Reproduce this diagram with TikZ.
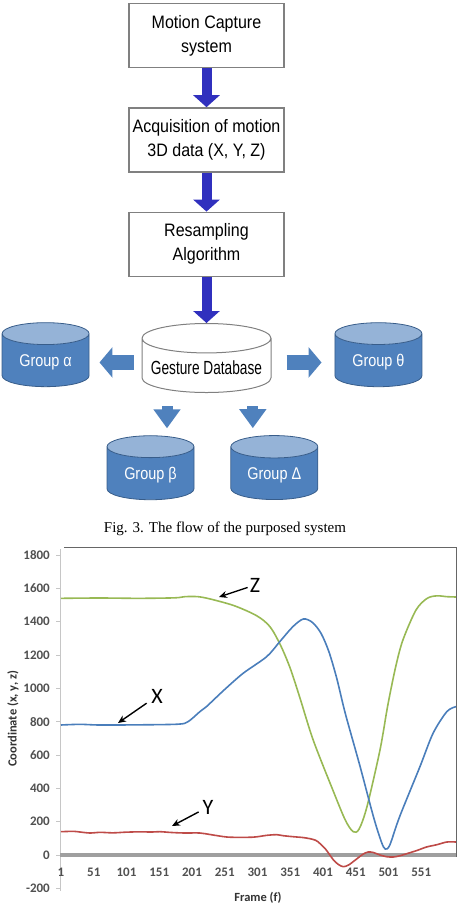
\documentclass[tikz,border=0pt]{standalone}
\usepackage{fontspec}
\setmainfont{Liberation Serif}
\newfontfamily\boxfont[FakeStretch=0.89]{Liberation Sans}
\newfontfamily\dbfont[FakeStretch=0.72]{Liberation Sans}
\newfontfamily\grpfont[FakeStretch=0.85]{Liberation Sans}
\newfontfamily\chartfont{Carlito}
\usetikzlibrary{arrows.meta, positioning, shapes.geometric}

\definecolor{flowblue}{RGB}{48,48,190}
\definecolor{grpfill}{RGB}{79,129,189}
\definecolor{grptop}{RGB}{149,179,215}
\definecolor{grpline}{RGB}{56,93,138}
\definecolor{xblue}{RGB}{74,126,187}
\definecolor{zgreen}{RGB}{152,185,84}
\definecolor{yred}{RGB}{190,75,72}
\definecolor{ticktext}{RGB}{80,80,80}

\begin{document}
\begin{tikzpicture}[
  x=1pt, y=-1pt,
  node distance=39pt and 52pt,
  box/.style={draw=gray, line width=1.4pt, minimum width=155pt, minimum height=64pt, align=center, inner sep=0pt, font=\boxfont\fontsize{18}{24}\selectfont},
  db/.style={cylinder, shape border rotate=90, aspect=0.25, draw=gray, line width=1pt, fill=white, minimum width=129pt, minimum height=69pt, font=\dbfont\fontsize{19}{22}\selectfont},
  grp/.style={cylinder, shape border rotate=90, aspect=0.37, draw=grpline, line width=0.8pt, cylinder uses custom fill, cylinder body fill=grpfill, cylinder end fill=grptop, minimum width=87pt, minimum height=64pt, text=white, font=\grpfont\fontsize{17}{20}\selectfont},
  arr/.style={-{Triangle[length=12pt, width=26pt]}, line width=10pt, draw=flowblue},
  fat/.style={-{Triangle[length=13pt, width=30pt]}, line width=15pt, draw=grpfill},
  down/.style={-{Triangle[length=19pt, width=26pt]}, line width=11pt, draw=grpfill},
  tick/.style={font=\chartfont\bfseries\fontsize{13}{15}\selectfont, text=ticktext},
  axlabel/.style={font=\chartfont\bfseries\fontsize{12.5}{15}\selectfont, text=black!80},
  curve/.style={line width=1.6pt, smooth},
  lbl/.style={font=\chartfont\fontsize{22}{24}\selectfont, inner sep=2pt},
  pointer/.style={-{Stealth[length=8pt, width=7pt]}, line width=1.4pt}
]
\useasboundingbox (0,0) rectangle (460,922);

% flow part
\node[box] (mocap) at (206.5,35.5) {Motion Capture\\system};
\node[box, below=of mocap] (acq) {Acquisition of motion\\3D data (X, Y, Z)};
\node[box, below=of acq] (resamp) {Resampling\\Algorithm};

\node[db, below=46pt of resamp] (gdb) {Gesture Database};

\node[grp, left=52pt of gdb, yshift=5.5pt] (galpha) {Group α};
\node[grp, right=63pt of gdb, yshift=5.5pt] (gtheta) {Group θ};
\node[grp] (gbeta) at (150.5,475.5) {Group β};
\node[grp, right=36pt of gbeta] (gdelta) {Group Δ};

\coordinate (bdown) at ([xshift=16.5pt]gbeta.north);
\coordinate (ddown) at ([xshift=-21.5pt]gdelta.north);

\draw[arr] (mocap) -- (acq);
\draw[arr] (acq) -- (resamp);
\draw[arr] (resamp) -- (gdb);

\draw[fat, shorten <=8pt, shorten >=10pt] (gdb.west |- galpha.east) -- (galpha.east);
\draw[fat, shorten <=15pt, shorten >=13pt] (gdb.east |- gtheta.west) -- (gtheta.west);
\draw[down, shorten <=13pt, shorten >=7pt] (bdown |- gdb.south) -- (bdown);
\draw[down, shorten <=13pt, shorten >=7pt] (ddown |- gdb.south) -- (ddown);

\node[font=\fontsize{15}{18}\selectfont] (caption) at (225,529) {Fig. 3. The flow of the purposed system};

% chart part
\begin{scope}[shift={(60.345,855)}, x=0.655pt, y=0.16667pt]
  \draw[gray!80!black, line width=0.8pt] (6,1848) -- (604,1848) -- (604,-12);
  \draw[gray!45, line width=0.8pt] (0,1836) -- (0,-215);
  \foreach \v in {-200,0,200,400,600,800,1000,1200,1400,1600,1800} {
    \draw[gray!45, line width=0.8pt] (0,\v) -- ++(-4pt,0);
    \node[tick, anchor=east, xshift=-7pt] at (0,\v) {\v};
  }
  \draw[gray!75, line width=4pt] (0,0) -- (604,0);
  \foreach \f in {1,51,101,151,201,251,301,351,401,451,501,551}
    \node[tick] at (\f,-102) {\f};

  \draw[curve, zgreen] plot coordinates {(1,1540) (60,1542) (120,1540) (175,1543) (190,1550) (210,1550) (230,1535) (266,1495) (300,1435) (320,1370) (336,1260) (351,1120) (366,940) (386,690) (416,390) (435,210) (447,140) (456,155) (468,288) (488,630) (500,900) (512,1130) (523,1290) (543,1470) (560,1540) (575,1555) (590,1550) (604,1548)};
  \draw[curve, xblue] plot coordinates {(1,780) (30,784) (60,780) (120,781) (180,785) (195,800) (213,860) (223,890) (250,990) (279,1090) (315,1190) (335,1280) (355,1370) (371,1416) (385,1395) (398,1330) (410,1220) (422,1060) (435,850) (457,540) (478,230) (490,80) (496,36) (503,60) (518,230) (549,530) (569,730) (590,860) (604,890)};
  \draw[curve, yred] plot coordinates {(1,140) (20,142) (30,138) (45,132) (61,136) (80,133) (100,137) (120,139) (140,138) (152,140) (170,135) (190,132) (213,132) (230,122) (254,108) (275,106) (294,107) (305,112) (315,118) (330,122) (340,116) (355,110) (370,105) (381,98) (390,88) (396,70) (405,35) (417,-30) (425,-58) (432,-70) (440,-60) (452,-25) (462,5) (470,18) (478,15) (488,0) (498,-10) (508,-12) (518,-5) (529,8) (545,28) (559,48) (575,62) (590,78) (604,78)};
\end{scope}

\node[axlabel] (xaxis) at (258,898) {Frame (f)};
\node[axlabel, rotate=90] (yaxis) at (13,719) {Coordinate (x, y, z)};

\node[lbl] (zlab) at (255,585) {Z};
\node[lbl] (xlab) at (157,696) {X};
\node[lbl] (ylab) at (208,807) {Y};
\coordinate (ztip) at (219,597);
\coordinate (xtip) at (118,723);
\coordinate (ytip) at (172,826);
\draw[pointer] (zlab) -- (ztip);
\draw[pointer, shorten <=3pt] (xlab) -- (xtip);
\draw[pointer, shorten <=2pt] (ylab) -- (ytip);

\end{tikzpicture}
\end{document}
